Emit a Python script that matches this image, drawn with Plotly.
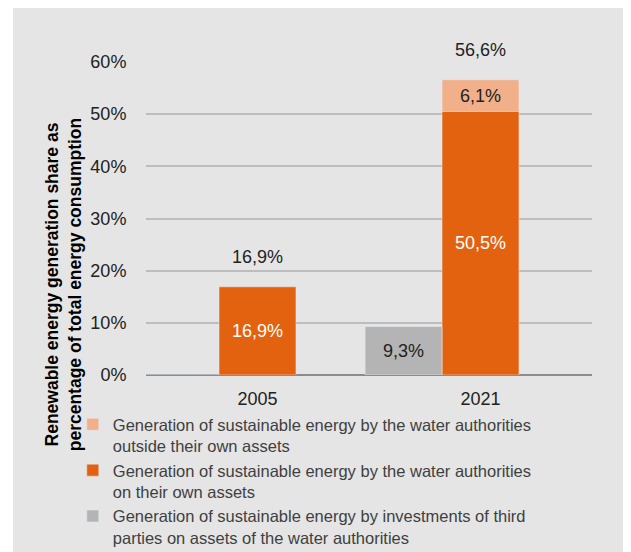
import plotly.graph_objects as go

# data
years = ["2005", "2021"]
own_assets = [16.9, 50.5]          # on their own assets
outside_assets = [0, 6.1]          # outside their own assets
third_parties = [0, 9.3]           # investments of third parties
totals = [16.9, 56.6]

names = [
    "Generation of sustainable energy by the water authorities<br>outside their own assets",
    "Generation of sustainable energy by the water authorities<br>on their own assets",
    "Generation of sustainable energy by investments of third<br>parties on assets of the water authorities",
]


def fmt(v):
    if not v:
        return ""
    return f"{v:.1f}%".replace(".", ",")


W = 0.345
FONT = "Liberation Sans, Arial"

fig = go.Figure()

# lichtoranje: bovenop de eigen assets
fig.add_trace(go.Bar(
    x=years, y=outside_assets, base=own_assets, name=names[0],
    marker_color="#F2B08A", width=W, offset=-W / 2,
    text=[fmt(v) for v in outside_assets], textposition="inside",
    insidetextanchor="middle", textangle=0,
    textfont=dict(family=FONT, size=18, color="#222222"),
))

fig.add_trace(go.Bar(
    x=years, y=own_assets, name=names[1],
    marker_color="#E36210", width=W, offset=-W / 2,
    text=[fmt(v) for v in own_assets], textposition="inside",
    insidetextanchor="middle", textangle=0,
    textfont=dict(family=FONT, size=18, color="white"),
))

fig.add_trace(go.Bar(
    x=years, y=third_parties, name=names[2],
    marker_color="#B4B4B4", width=W, offset=-1.5 * W,
    text=[fmt(v) for v in third_parties], textposition="inside",
    insidetextanchor="middle", textangle=0,
    textfont=dict(family=FONT, size=18, color="#222222"),
))

# totaal boven de kolommen (x als categorie-index)
for i, tot in enumerate(totals):
    fig.add_annotation(x=i, y=tot, text=fmt(tot), showarrow=False,
                       yanchor="bottom", yshift=18,
                       font=dict(family=FONT, size=18, color="#222222"))

# y-as titel
fig.add_annotation(
    xref="paper", yref="paper", x=-0.186, y=0.29,
    xanchor="center", yanchor="middle",
    text="<b>Renewable energy generation share as<br>percentage of total energy consumption</b>",
    textangle=-90, showarrow=False, align="center",
    font=dict(family=FONT, size=17.5, color="black"),
)

# grijze achtergrond
fig.add_shape(type="rect", xref="paper", yref="paper",
              x0=-133 / 446, x1=485 / 446, y0=-177 / 313, y1=367 / 313,
              fillcolor="#E5E5E5", line=dict(width=0), layer="below")

fig.update_layout(
    width=623, height=544,
    margin=dict(l=138, r=39, t=54, b=177, autoexpand=False),
    barmode="overlay",
    paper_bgcolor="white",
    plot_bgcolor="rgba(0,0,0,0)",
    font=dict(family=FONT, size=18, color="#222222"),
    xaxis=dict(type="category", showgrid=False, range=[-0.5, 1.5],
               ticks="outside", ticklen=7, tickcolor="rgba(0,0,0,0)",
               tickfont=dict(size=18, color="#222222")),
    yaxis=dict(range=[0, 60], dtick=10, ticksuffix="%",
               gridcolor="#BDBDBD", gridwidth=2,
               zeroline=True, zerolinecolor="#8C8C8C", zerolinewidth=2,
               ticks="outside", ticklen=15, tickcolor="rgba(0,0,0,0)",
               tickfont=dict(size=18, color="#222222")),
    legend=dict(xref="container", yref="container", x=0.104, y=0.2665,
                xanchor="left", yanchor="top", valign="top",
                bgcolor="rgba(0,0,0,0)", tracegroupgap=0,
                font=dict(family=FONT, size=16.5, color="#404040")),
    showlegend=True,
)

fig.write_html("out.html")
